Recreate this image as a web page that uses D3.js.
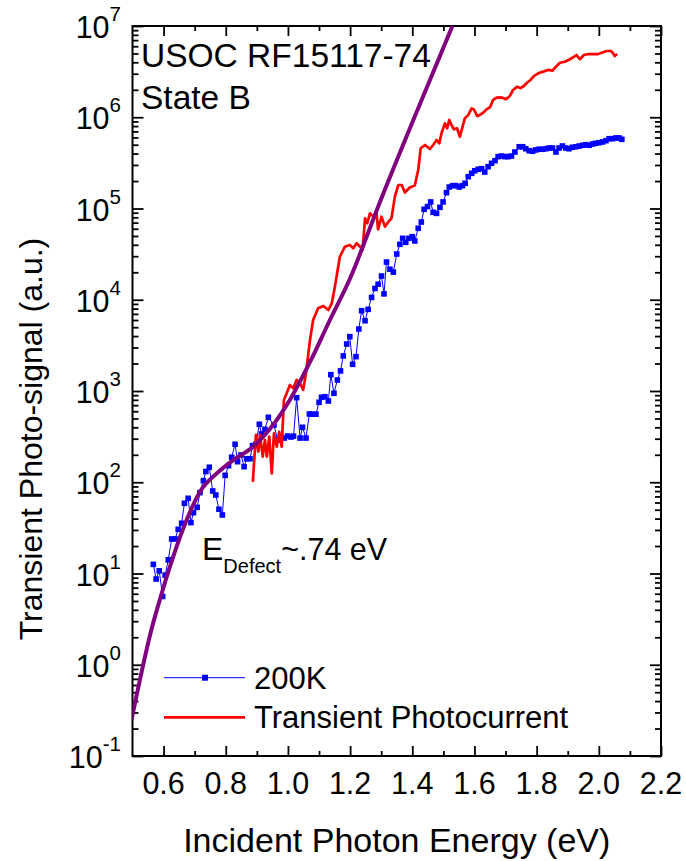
<!DOCTYPE html>
<html><head><meta charset="utf-8">
<script src="https://cdn.jsdelivr.net/npm/d3@7"></script>
<style>
body{margin:0;background:#fff}
text{font-family:Arial,"Liberation Sans",Helvetica,sans-serif;fill:#000}
</style>
</head><body>
<svg id="c" width="686" height="861"></svg>
<script>
// ---- data ----
const energy200K = [
 0.567,0.576,0.586,0.597,0.605,0.615,0.626,0.637,0.647,0.658,
 0.667,0.679,0.688,0.696,0.708,0.717,0.728,0.736,0.747,0.758,
 0.768,0.778,0.789,0.798,0.809,0.819,0.830,0.838,0.849,0.859,
 0.867,0.878,0.886,0.897,0.908,0.915,0.926,0.937,0.955,0.967,
 0.978,0.988,0.999,1.010,1.018,1.028,1.039,1.047,1.058,1.069,
 1.079,1.090,1.100,1.108,1.119,1.130,1.138,1.148,1.159,1.169,
 1.178,1.189,1.199,1.208,1.219,1.228,1.237,1.248,1.258,1.269,
 1.280,1.290,1.301,1.309,1.317,1.328,1.339,1.350,1.360,1.369,
 1.379,1.389,1.400,1.408,1.419,1.429,1.438,1.449,1.459,1.467,
 1.478,1.489,1.499,1.510,1.519,1.530,1.540,1.551,1.561,1.570,
 1.580,1.591,1.601,1.612,1.623,1.633,1.644,1.655,1.666,1.676,
 1.687,1.698,1.708,1.719,1.730,1.744,1.755,1.765,1.776,1.787,
 1.797,1.808,1.819,1.830,1.840,1.851,1.862,1.872,1.883,1.894,
 1.904,1.915,1.926,1.937,1.948,1.958,1.969,1.980,1.990,2.001,
 2.012,2.023,2.033,2.044,2.055,2.065,2.074];
const signal200K = [
 12.6,8.7,10.7,5.6,9.6,14.1,23.9,23.9,30.5,35.5,
 58.8,66.7,36.1,46.4,53.1,76.9,104,131,146,80.2,
 72.5,50.6,43.8,119,152,188,261,168,199,148,
 181,181,252,262,432,338,380,515,424,290,
 313,305,321,313,320,845,305,400,305,560,
 557,557,752,853,866,777,1510,944,1320,1660,
 2420,3270,3940,1960,2380,4780,7590,5890,7850,10600,
 13300,14800,18200,11600,25900,21600,20100,31700,40500,47100,
 42600,47100,49100,44100,60700,71100,98000,105000,118000,90800,
 88500,103000,118000,149000,172000,178000,178000,172000,178000,189000,
 223000,243000,259000,269000,273000,251000,287000,313000,334000,370000,
 376000,370000,370000,376000,416000,475000,475000,452000,430000,424000,
 438000,446000,446000,452000,460000,460000,416000,460000,484000,460000,
 452000,469000,475000,484000,493000,500000,493000,509000,518000,526000,
 536000,553000,582000,582000,593000,593000,573000];

const energyTPC = [
 0.887,0.897,0.905,0.910,0.919,0.926,0.932,0.940,0.948,0.955,
 0.964,0.972,0.980,0.987,0.996,1.006,1.017,1.028,1.039,1.049,
 1.058,1.071,1.081,1.097,1.114,1.130,1.141,1.151,1.167,1.183,
 1.199,1.210,1.221,1.232,1.240,1.248,1.255,1.264,1.274,1.285,
 1.290,1.301,1.312,1.323,1.333,1.344,1.355,1.366,1.376,1.392,
 1.408,1.419,1.427,1.441,1.457,1.467,1.478,1.487,1.494,1.505,
 1.512,1.519,1.526,1.534,1.544,1.553,1.569,1.580,1.591,1.598,
 1.609,1.617,1.628,1.639,1.650,1.660,1.671,1.687,1.701,1.714,
 1.724,1.737,1.748,1.759,1.769,1.780,1.791,1.805,1.821,1.837,
 1.851,1.862,1.875,1.891,1.907,1.917,1.928,1.939,1.952,1.966,
 1.982,1.998,2.009,2.025,2.039,2.046,2.051,2.059];
const signalTPC = [
 101,330,216,330,191,290,191,316,125,344,
 245,358,245,797,944,1160,1070,1320,1210,1030,
 1560,3620,6000,8060,8550,7720,9140,13900,29600,38100,
 39800,36600,41600,38100,35100,78100,68900,88500,81300,88500,
 59200,81300,63200,71600,78100,135000,181000,181000,150000,170000,
 179000,264000,457000,497000,449000,497000,563000,518000,667000,859000,
 757000,933000,822000,738000,757000,612000,973000,1.06e6,1.25e6,1.22e6,
 1.03e6,1.06e6,1.12e6,1.22e6,1.29e6,1.55e6,1.64e6,1.65e6,1.58e6,1.71e6,
 1.99e6,2.16e6,2.08e6,2.20e6,2.39e6,2.56e6,2.83e6,3.03e6,3.16e6,3.30e6,
 3.24e6,3.58e6,3.96e6,4.06e6,4.32e6,4.54e6,4.81e6,4.32e6,4.81e6,4.93e6,
 4.93e6,4.93e6,5.09e6,5.32e6,5.32e6,5.02e6,4.69e6,4.93e6];

const energyFit = [0.498,0.562,0.594,0.631,0.674,0.717,0.771,0.824,0.888,0.942,1.006,1.071,1.135,1.199,1.296,1.529,1.560];
const signalFit = [0.26,2.51,6.07,15.3,38.5,78.7,125,175,245,384,797,2080,6000,16900,118000,1.0e7,1.8e7];

const xTickValues = [0.6,0.8,1.0,1.2,1.4,1.6,1.8,2.0,2.2];
const xMinorValues = [0.7,0.9,1.1,1.3,1.5,1.7,1.9,2.1];
const yTickExponents = [-1,0,1,2,3,4,5,6,7];
const seriesNames = ["200K","Transient Photocurrent"];
const seriesColors = ["#0000ff","#ff0000"];
const fitColor = "#800080";

// ---- layout ----
const L=132.5, R=661, T=26, B=756;
const svg = d3.select("#c");
const x = d3.scaleLinear().domain([0.5,2.2]).range([L,R]);
const y = d3.scaleLog().domain([0.1,1e7]).range([B,T]);

svg.append("defs").append("clipPath").attr("id","clip")
  .append("rect").attr("x",L).attr("y",T).attr("width",R-L).attr("height",B-T);

const yMajor = yTickExponents.map(e=>Math.pow(10,e));
const yMinor = [];
yTickExponents.slice(0,-1).forEach(e=>{ for(let m=2;m<=9;m++) yMinor.push(m*Math.pow(10,e)); });

function tickGroup(axis, tr){
  const g = svg.append("g").attr("transform",tr).call(axis);
  g.select(".domain").remove();
  g.selectAll("text").remove();
  g.selectAll("line").attr("stroke","#000").attr("stroke-width",1.8);
}
tickGroup(d3.axisBottom(x).tickValues(xTickValues).tickSize(-10), `translate(0,${B})`);
tickGroup(d3.axisBottom(x).tickValues(xMinorValues).tickSize(-5), `translate(0,${B})`);
tickGroup(d3.axisTop(x).tickValues(xTickValues).tickSize(-10), `translate(0,${T})`);
tickGroup(d3.axisTop(x).tickValues(xMinorValues).tickSize(-5), `translate(0,${T})`);
tickGroup(d3.axisLeft(y).tickValues(yMajor).tickSize(-11), `translate(${L},0)`);
tickGroup(d3.axisLeft(y).tickValues(yMinor).tickSize(-6), `translate(${L},0)`);
tickGroup(d3.axisRight(y).tickValues(yMajor).tickSize(-11), `translate(${R},0)`);
tickGroup(d3.axisRight(y).tickValues(yMinor).tickSize(-6), `translate(${R},0)`);

// x tick labels
svg.append("g").selectAll("text").data(xTickValues).join("text")
  .attr("x",d=>x(d)).attr("y",794).attr("text-anchor","middle")
  .attr("font-size",30.5).text(d=>d.toFixed(1));

// y tick labels 10^n
const yl = svg.append("g").selectAll("text").data(yTickExponents).join("text")
  .attr("x",121).attr("y",d=>y(Math.pow(10,d))+12).attr("text-anchor","end");
yl.append("tspan").attr("font-size",30.5).text("10");
yl.append("tspan").attr("font-size",20.5).attr("dy",-17).text(d=>String(d));

// frame
svg.append("rect").attr("x",L).attr("y",T).attr("width",R-L).attr("height",B-T)
  .attr("fill","none").attr("stroke","#000").attr("stroke-width",2);

// data
const plot = svg.append("g").attr("clip-path","url(#clip)");
const d200 = energy200K.map((e,i)=>[e,signal200K[i]]);
const dTPC = energyTPC.map((e,i)=>[e,signalTPC[i]]);
const dFit = energyFit.map((e,i)=>[e,signalFit[i]]);
const line = d3.line().x(d=>x(d[0])).y(d=>y(d[1]));

plot.append("path").datum(d200).attr("d",line).attr("fill","none")
  .attr("stroke",seriesColors[0]).attr("stroke-width",1);
const ms=5.6;
plot.append("g").selectAll("rect").data(d200).join("rect")
  .attr("x",d=>x(d[0])-ms/2).attr("y",d=>y(d[1])-ms/2).attr("width",ms).attr("height",ms)
  .attr("fill",seriesColors[0]);
plot.append("path").datum(dTPC).attr("d",line).attr("fill","none")
  .attr("stroke",seriesColors[1]).attr("stroke-width",2.7).attr("stroke-linejoin","round");
plot.append("path").datum(dFit).attr("d",line.curve(d3.curveMonotoneX)).attr("fill","none")
  .attr("stroke",fitColor).attr("stroke-width",4).attr("stroke-linecap","round");

// annotations
svg.append("text").attr("x",141).attr("y",67).attr("font-size",33.5).text("USOC RF15117-74");
svg.append("text").attr("x",141).attr("y",109).attr("font-size",33.5).text("State B");
const ed = svg.append("text").attr("x",202).attr("y",560).attr("font-size",32);
ed.append("tspan").text("E");
ed.append("tspan").attr("font-size",20).attr("dy",12.7).text("Defect");
ed.append("tspan").attr("dy",-12.7).attr("font-size",30.5).text("~.74 eV");

// legend
const lg = svg.append("g");
lg.append("line").attr("x1",164).attr("x2",245).attr("y1",677.7).attr("y2",677.7)
  .attr("stroke",seriesColors[0]).attr("stroke-width",1);
lg.append("rect").attr("x",205-3).attr("y",677.7-3).attr("width",6).attr("height",6).attr("fill",seriesColors[0]);
lg.append("text").attr("x",254).attr("y",689).attr("font-size",31).text(seriesNames[0]);
lg.append("line").attr("x1",164).attr("x2",245).attr("y1",717.3).attr("y2",717.3)
  .attr("stroke",seriesColors[1]).attr("stroke-width",2.7);
lg.append("text").attr("x",254).attr("y",727.5).attr("font-size",31).text(seriesNames[1]);

// axis titles
svg.append("text").attr("x",(L+R)/2).attr("y",852).attr("text-anchor","middle")
  .attr("font-size",34).text("Incident Photon Energy (eV)");
svg.append("text").attr("transform","translate(42,439) rotate(-90)").attr("text-anchor","middle")
  .attr("font-size",32).text("Transient Photo-signal (a.u.)");
</script>
</body></html>
